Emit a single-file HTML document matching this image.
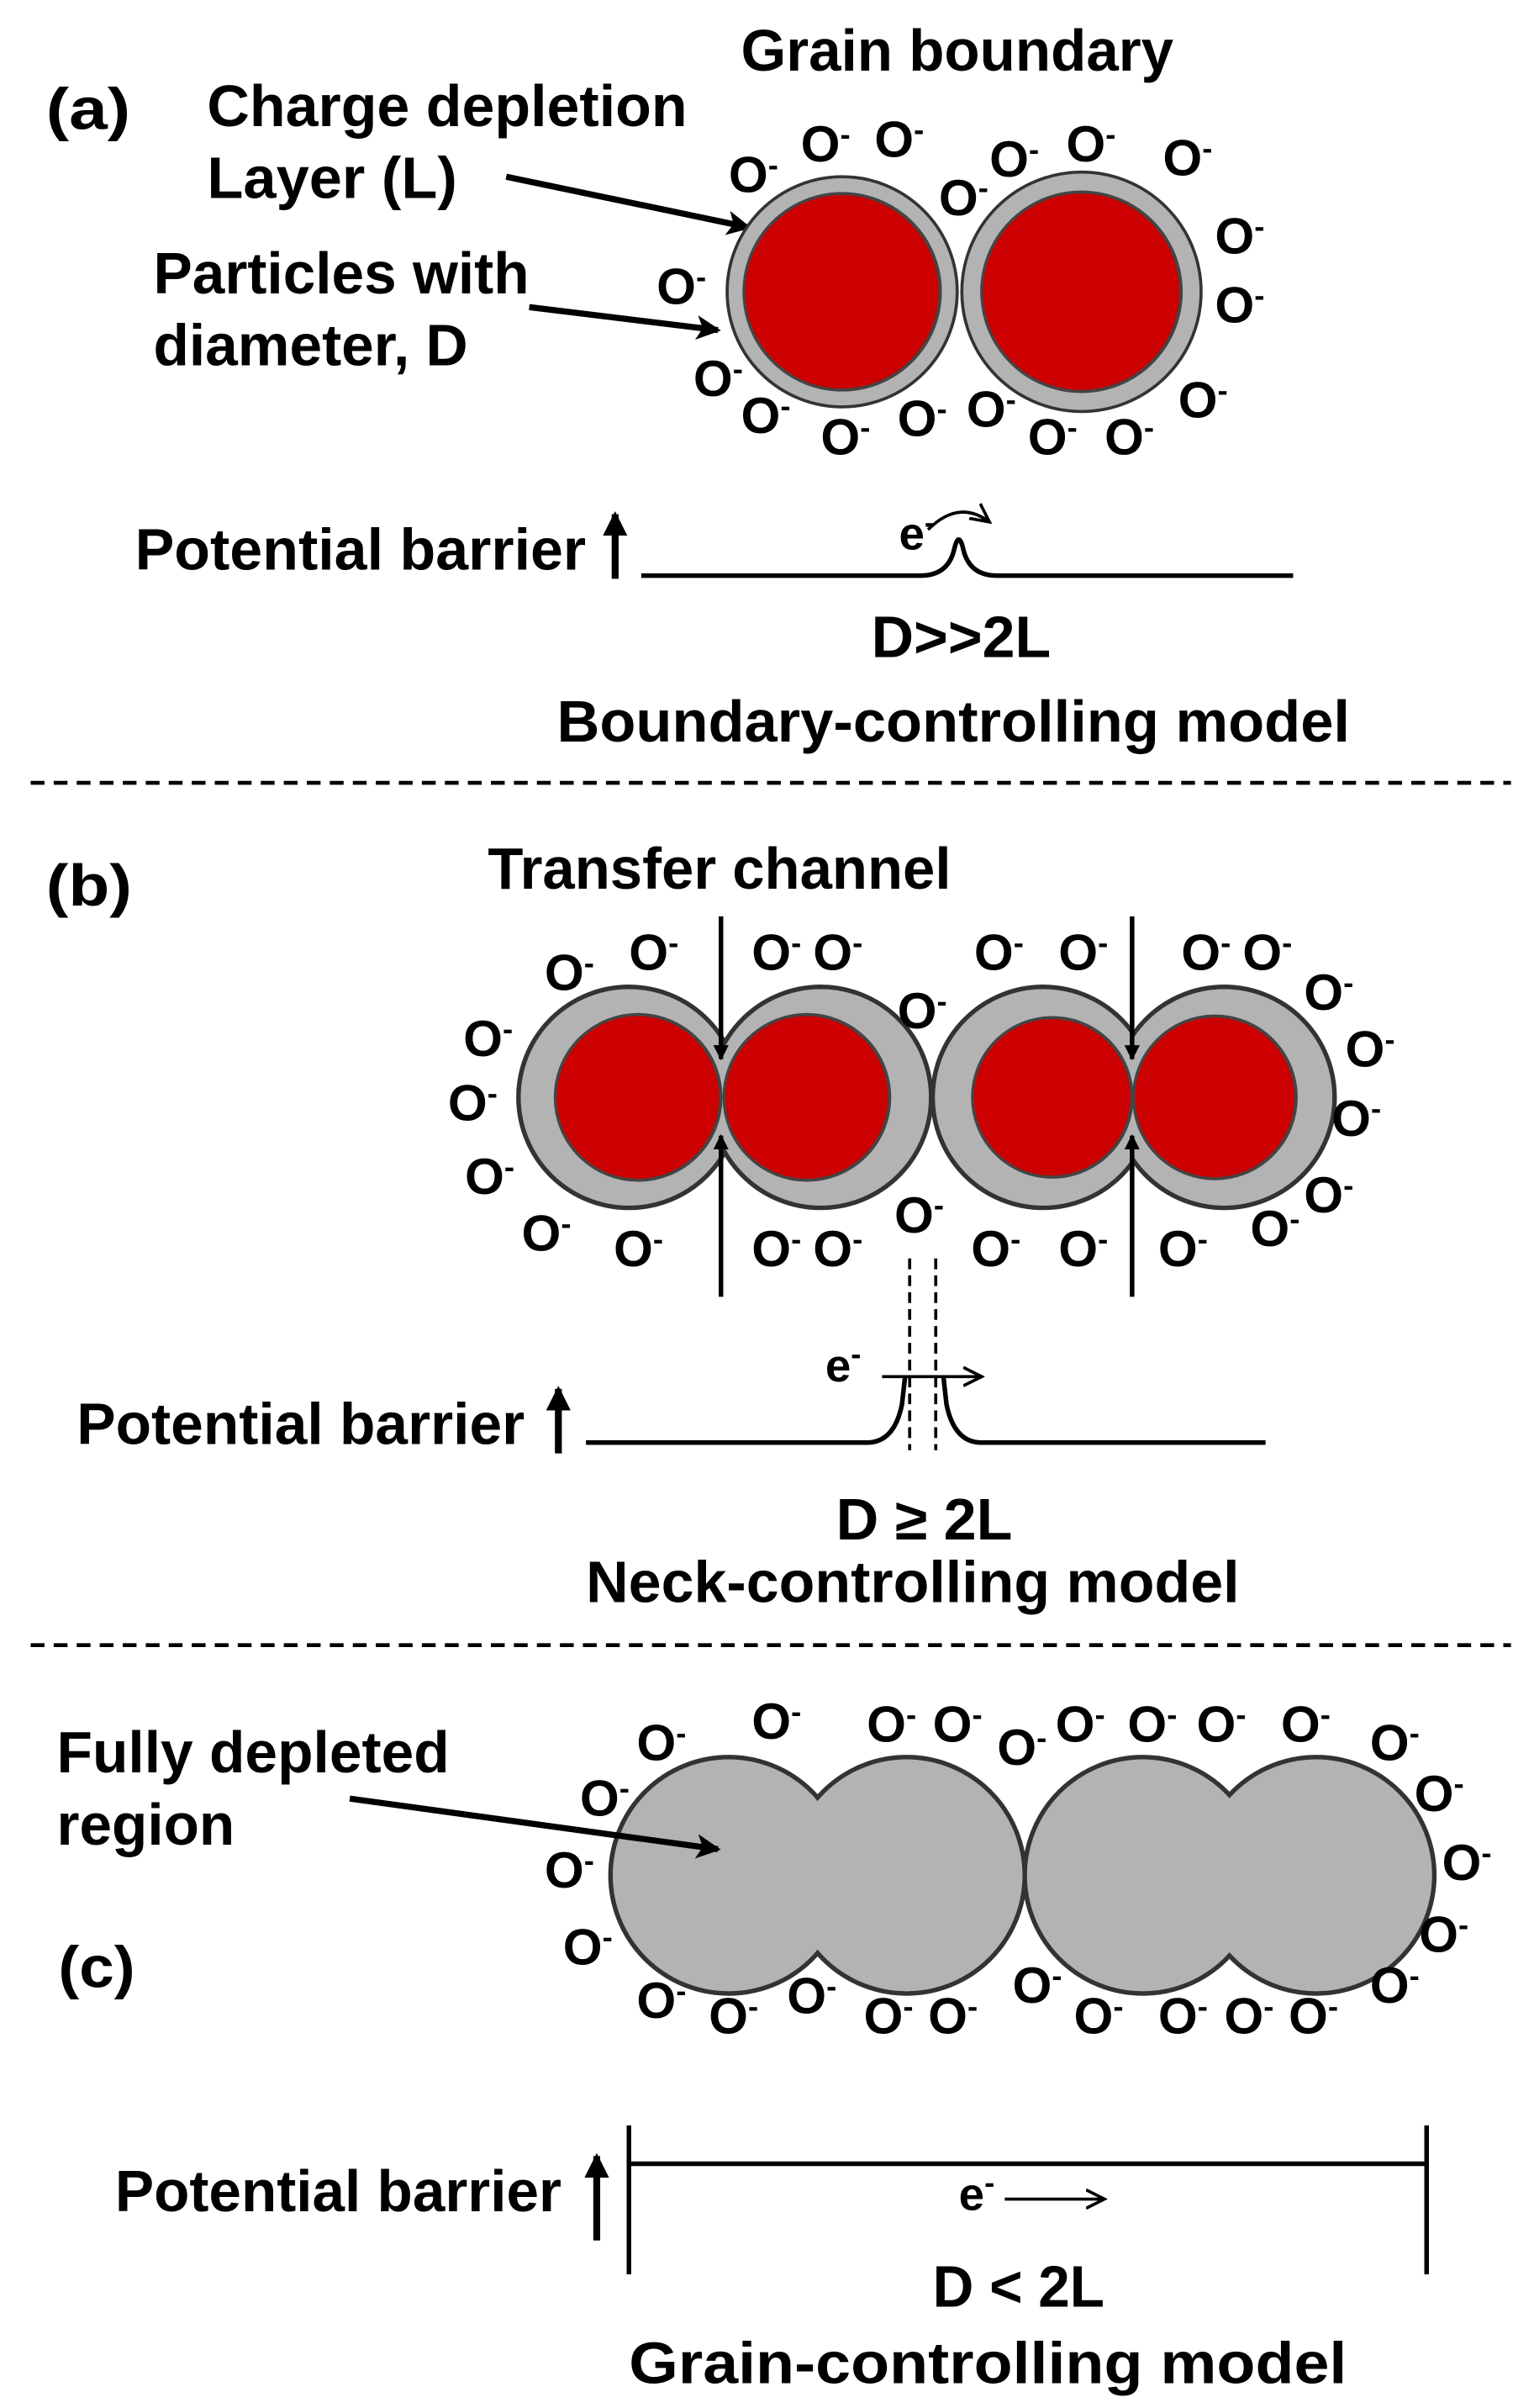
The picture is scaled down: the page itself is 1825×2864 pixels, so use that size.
<!DOCTYPE html>
<html><head><meta charset="utf-8"><style>
html,body{margin:0;padding:0;background:#fff;}
svg{display:block;}
text{font-family:"Liberation Sans",sans-serif;font-weight:bold;fill:#000;}
.o{font-size:33px;}
.l{font-size:38px;}
</style></head><body>
<svg width="1825" height="2864" viewBox="0 0 1000 1569" xmlns="http://www.w3.org/2000/svg">
<defs>
<marker id="ah" markerWidth="10" markerHeight="10" refX="9" refY="5" orient="auto" markerUnits="userSpaceOnUse" viewBox="0 0 10 10"><path d="M0,0 L10,5 L0,10 z" fill="#000"/></marker>
<marker id="au" markerWidth="16" markerHeight="16" refX="14" refY="8" orient="auto" markerUnits="userSpaceOnUse" viewBox="0 0 16 16"><path d="M0,0 L16,8 L0,16 z" fill="#000"/></marker>
<marker id="ah2" markerWidth="16" markerHeight="16" refX="14" refY="8" orient="auto" markerUnits="userSpaceOnUse" viewBox="0 0 16 16"><path d="M0,0 L16,8 L0,16 L4,8 z" fill="#000"/></marker>
<marker id="ao" markerWidth="14" markerHeight="14" refX="12" refY="7" orient="auto" markerUnits="userSpaceOnUse" viewBox="0 0 14 14"><path d="M0,1 L12,7 L0,13" fill="none" stroke="#000" stroke-width="2"/></marker>
</defs>

<!-- (a) -->
<text class="l" x="483" y="46" textLength="282" lengthAdjust="spacingAndGlyphs">Grain boundary</text>
<text class="l" x="30" y="84" textLength="55" lengthAdjust="spacingAndGlyphs">(a)</text>
<text class="l" x="135" y="82" textLength="313" lengthAdjust="spacingAndGlyphs">Charge depletion</text>
<text class="l" x="135" y="129" textLength="163" lengthAdjust="spacingAndGlyphs">Layer (L)</text>
<text class="l" x="100" y="191" textLength="245" lengthAdjust="spacingAndGlyphs">Particles with</text>
<text class="l" x="100" y="238" textLength="205" lengthAdjust="spacingAndGlyphs">diameter, D</text>
<line x1="330" y1="115" x2="488" y2="148" stroke="#000" stroke-width="4" marker-end="url(#ah2)"/>
<line x1="345" y1="200" x2="468" y2="215" stroke="#000" stroke-width="4" marker-end="url(#ah2)"/>
<circle cx="549" cy="190" r="75" fill="#b3b3b3" stroke="#333" stroke-width="2"/>
<circle cx="549" cy="190" r="64" fill="#cc0000" stroke="#444" stroke-width="2"/>
<circle cx="705" cy="190" r="78" fill="#b3b3b3" stroke="#333" stroke-width="2"/>
<circle cx="705" cy="190" r="65" fill="#cc0000" stroke="#444" stroke-width="2"/>
<g class="o">
<text x="475" y="125">O<tspan dy="-11" font-size="20">-</tspan></text>
<text x="522" y="105">O<tspan dy="-11" font-size="20">-</tspan></text>
<text x="570" y="102">O<tspan dy="-11" font-size="20">-</tspan></text>
<text x="612" y="140">O<tspan dy="-11" font-size="20">-</tspan></text>
<text x="645" y="115">O<tspan dy="-11" font-size="20">-</tspan></text>
<text x="695" y="105">O<tspan dy="-11" font-size="20">-</tspan></text>
<text x="758" y="114">O<tspan dy="-11" font-size="20">-</tspan></text>
<text x="792" y="165">O<tspan dy="-11" font-size="20">-</tspan></text>
<text x="792" y="210">O<tspan dy="-11" font-size="20">-</tspan></text>
<text x="428" y="198">O<tspan dy="-11" font-size="20">-</tspan></text>
<text x="452" y="258">O<tspan dy="-11" font-size="20">-</tspan></text>
<text x="483" y="282">O<tspan dy="-11" font-size="20">-</tspan></text>
<text x="535" y="296">O<tspan dy="-11" font-size="20">-</tspan></text>
<text x="585" y="284">O<tspan dy="-11" font-size="20">-</tspan></text>
<text x="630" y="278">O<tspan dy="-11" font-size="20">-</tspan></text>
<text x="670" y="296">O<tspan dy="-11" font-size="20">-</tspan></text>
<text x="720" y="296">O<tspan dy="-11" font-size="20">-</tspan></text>
<text x="768" y="272">O<tspan dy="-11" font-size="20">-</tspan></text>
</g>
<text class="l" x="88" y="371" textLength="294" lengthAdjust="spacingAndGlyphs">Potential barrier</text>
<line x1="401" y1="377" x2="401" y2="335" stroke="#000" stroke-width="4.5" marker-end="url(#au)"/>
<path d="M418,375 L600,375 Q618,375 622,358 Q625,345 628,358 Q632,375 650,375 L843,375" fill="none" stroke="#000" stroke-width="3"/>
<text x="586" y="358" style="font-size:30px">e<tspan dy="-11" font-size="20">-</tspan></text>
<path d="M605,345 Q625,325 645,340" fill="none" stroke="#000" stroke-width="2" marker-end="url(#ao)"/>
<text class="l" x="568" y="428" textLength="117" lengthAdjust="spacingAndGlyphs">D&gt;&gt;2L</text>
<text class="l" x="363" y="483" textLength="517" lengthAdjust="spacingAndGlyphs">Boundary-controlling model</text>
<line x1="20" y1="510" x2="985" y2="510" stroke="#000" stroke-width="2.5" stroke-dasharray="9,6"/>

<!-- (b) -->
<text class="l" x="318" y="579" textLength="302" lengthAdjust="spacingAndGlyphs">Transfer channel</text>
<text class="l" x="30" y="590" textLength="56" lengthAdjust="spacingAndGlyphs">(b)</text>
<g stroke="#333" stroke-width="3" fill="#b3b3b3">
<circle cx="410" cy="715" r="72"/><circle cx="535" cy="715" r="72"/>
<circle cx="680" cy="715" r="72"/><circle cx="798" cy="715" r="72"/>
</g>
<g fill="#b3b3b3">
<circle cx="410" cy="715" r="70.5"/><circle cx="535" cy="715" r="70.5"/>
<circle cx="680" cy="715" r="70.5"/><circle cx="798" cy="715" r="70.5"/>
</g>
<circle cx="416" cy="715" r="54" fill="#cc0000" stroke="#444" stroke-width="2"/>
<circle cx="526" cy="715" r="54" fill="#cc0000" stroke="#444" stroke-width="2"/>
<circle cx="686" cy="715" r="52" fill="#cc0000" stroke="#444" stroke-width="2"/>
<circle cx="792" cy="715" r="53" fill="#cc0000" stroke="#444" stroke-width="2"/>
<line x1="470" y1="597" x2="470" y2="690" stroke="#000" stroke-width="3" marker-end="url(#ah)"/>
<line x1="470" y1="845" x2="470" y2="740" stroke="#000" stroke-width="3" marker-end="url(#ah)"/>
<line x1="738" y1="597" x2="738" y2="690" stroke="#000" stroke-width="3" marker-end="url(#ah)"/>
<line x1="738" y1="845" x2="738" y2="740" stroke="#000" stroke-width="3" marker-end="url(#ah)"/>
<g class="o">
<text x="355" y="645">O<tspan dy="-11" font-size="20">-</tspan></text>
<text x="410" y="632">O<tspan dy="-11" font-size="20">-</tspan></text>
<text x="490" y="632">O<tspan dy="-11" font-size="20">-</tspan></text>
<text x="530" y="632">O<tspan dy="-11" font-size="20">-</tspan></text>
<text x="585" y="670">O<tspan dy="-11" font-size="20">-</tspan></text>
<text x="635" y="632">O<tspan dy="-11" font-size="20">-</tspan></text>
<text x="690" y="632">O<tspan dy="-11" font-size="20">-</tspan></text>
<text x="770" y="632">O<tspan dy="-11" font-size="20">-</tspan></text>
<text x="810" y="632">O<tspan dy="-11" font-size="20">-</tspan></text>
<text x="850" y="658">O<tspan dy="-11" font-size="20">-</tspan></text>
<text x="877" y="695">O<tspan dy="-11" font-size="20">-</tspan></text>
<text x="868" y="740">O<tspan dy="-11" font-size="20">-</tspan></text>
<text x="850" y="790">O<tspan dy="-11" font-size="20">-</tspan></text>
<text x="815" y="812">O<tspan dy="-11" font-size="20">-</tspan></text>
<text x="755" y="825">O<tspan dy="-11" font-size="20">-</tspan></text>
<text x="690" y="825">O<tspan dy="-11" font-size="20">-</tspan></text>
<text x="633" y="825">O<tspan dy="-11" font-size="20">-</tspan></text>
<text x="583" y="803">O<tspan dy="-11" font-size="20">-</tspan></text>
<text x="490" y="825">O<tspan dy="-11" font-size="20">-</tspan></text>
<text x="530" y="825">O<tspan dy="-11" font-size="20">-</tspan></text>
<text x="400" y="825">O<tspan dy="-11" font-size="20">-</tspan></text>
<text x="340" y="815">O<tspan dy="-11" font-size="20">-</tspan></text>
<text x="303" y="778">O<tspan dy="-11" font-size="20">-</tspan></text>
<text x="292" y="730">O<tspan dy="-11" font-size="20">-</tspan></text>
<text x="302" y="688">O<tspan dy="-11" font-size="20">-</tspan></text>
</g>
<line x1="593" y1="820" x2="593" y2="945" stroke="#000" stroke-width="2" stroke-dasharray="7,4"/>
<line x1="610" y1="820" x2="610" y2="945" stroke="#000" stroke-width="2" stroke-dasharray="7,4"/>
<text class="l" x="50" y="941" textLength="292" lengthAdjust="spacingAndGlyphs">Potential barrier</text>
<line x1="364" y1="947" x2="364" y2="905" stroke="#000" stroke-width="4.5" marker-end="url(#au)"/>
<path d="M382,940 L565,940 Q583,940 588,915 L590,897 M615,897 L617,915 Q622,940 640,940 L825,940" fill="none" stroke="#000" stroke-width="3"/>
<text x="538" y="900" style="font-size:30px">e<tspan dy="-11" font-size="20">-</tspan></text>
<line x1="575" y1="897" x2="640" y2="897" stroke="#000" stroke-width="2" marker-end="url(#ao)"/>
<text class="l" x="545" y="1003" textLength="115" lengthAdjust="spacingAndGlyphs">D ≥ 2L</text>
<text class="l" x="382" y="1044" textLength="426" lengthAdjust="spacingAndGlyphs">Neck-controlling model</text>
<line x1="20" y1="1072" x2="985" y2="1072" stroke="#000" stroke-width="2.5" stroke-dasharray="9,6"/>

<!-- (c) -->
<text class="l" x="37" y="1155" textLength="256" lengthAdjust="spacingAndGlyphs">Fully depleted</text>
<text class="l" x="37" y="1202" textLength="116" lengthAdjust="spacingAndGlyphs">region</text>
<text class="l" x="38" y="1295" textLength="50" lengthAdjust="spacingAndGlyphs">(c)</text>
<g fill="#b3b3b3" stroke="#333" stroke-width="3">
<circle cx="475" cy="1222" r="77"/><circle cx="591" cy="1222" r="77"/>
<circle cx="745" cy="1222" r="77"/><circle cx="858" cy="1222" r="77"/>
</g>
<g fill="#b3b3b3">
<circle cx="475" cy="1222" r="75.5"/><circle cx="591" cy="1222" r="75.5"/>
<circle cx="745" cy="1222" r="75.5"/><circle cx="858" cy="1222" r="75.5"/>
</g>
<line x1="228" y1="1172" x2="468" y2="1205" stroke="#000" stroke-width="4" marker-end="url(#ah2)"/>
<g class="o">
<text x="415" y="1147">O<tspan dy="-11" font-size="20">-</tspan></text>
<text x="490" y="1133">O<tspan dy="-11" font-size="20">-</tspan></text>
<text x="565" y="1135">O<tspan dy="-11" font-size="20">-</tspan></text>
<text x="608" y="1135">O<tspan dy="-11" font-size="20">-</tspan></text>
<text x="650" y="1150">O<tspan dy="-11" font-size="20">-</tspan></text>
<text x="688" y="1135">O<tspan dy="-11" font-size="20">-</tspan></text>
<text x="735" y="1135">O<tspan dy="-11" font-size="20">-</tspan></text>
<text x="780" y="1135">O<tspan dy="-11" font-size="20">-</tspan></text>
<text x="835" y="1135">O<tspan dy="-11" font-size="20">-</tspan></text>
<text x="893" y="1147">O<tspan dy="-11" font-size="20">-</tspan></text>
<text x="922" y="1180">O<tspan dy="-11" font-size="20">-</tspan></text>
<text x="940" y="1225">O<tspan dy="-11" font-size="20">-</tspan></text>
<text x="925" y="1272">O<tspan dy="-11" font-size="20">-</tspan></text>
<text x="893" y="1305">O<tspan dy="-11" font-size="20">-</tspan></text>
<text x="840" y="1325">O<tspan dy="-11" font-size="20">-</tspan></text>
<text x="798" y="1325">O<tspan dy="-11" font-size="20">-</tspan></text>
<text x="755" y="1325">O<tspan dy="-11" font-size="20">-</tspan></text>
<text x="700" y="1325">O<tspan dy="-11" font-size="20">-</tspan></text>
<text x="660" y="1305">O<tspan dy="-11" font-size="20">-</tspan></text>
<text x="605" y="1325">O<tspan dy="-11" font-size="20">-</tspan></text>
<text x="563" y="1325">O<tspan dy="-11" font-size="20">-</tspan></text>
<text x="513" y="1312">O<tspan dy="-11" font-size="20">-</tspan></text>
<text x="462" y="1325">O<tspan dy="-11" font-size="20">-</tspan></text>
<text x="415" y="1315">O<tspan dy="-11" font-size="20">-</tspan></text>
<text x="367" y="1280">O<tspan dy="-11" font-size="20">-</tspan></text>
<text x="355" y="1230">O<tspan dy="-11" font-size="20">-</tspan></text>
<text x="378" y="1183">O<tspan dy="-11" font-size="20">-</tspan></text>
</g>
<text class="l" x="75" y="1441" textLength="291" lengthAdjust="spacingAndGlyphs">Potential barrier</text>
<line x1="389" y1="1460" x2="389" y2="1405" stroke="#000" stroke-width="4.5" marker-end="url(#au)"/>
<line x1="410" y1="1385" x2="410" y2="1482" stroke="#000" stroke-width="3"/>
<line x1="930" y1="1385" x2="930" y2="1482" stroke="#000" stroke-width="3"/>
<line x1="410" y1="1410" x2="930" y2="1410" stroke="#000" stroke-width="3"/>
<text x="625" y="1440" style="font-size:30px">e<tspan dy="-11" font-size="20">-</tspan></text>
<line x1="655" y1="1433" x2="720" y2="1433" stroke="#000" stroke-width="2" marker-end="url(#ao)"/>
<text class="l" x="608" y="1503" textLength="112" lengthAdjust="spacingAndGlyphs">D &lt; 2L</text>
<text class="l" x="410" y="1553" textLength="468" lengthAdjust="spacingAndGlyphs">Grain-controlling model</text>
</svg>
</body></html>
